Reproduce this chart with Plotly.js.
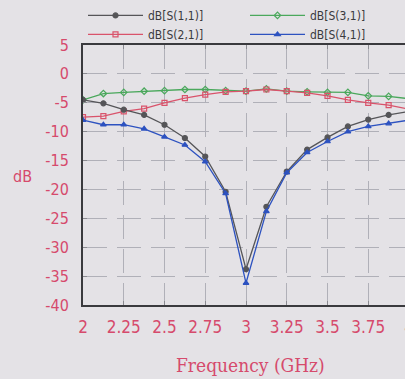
<!DOCTYPE html>
<html>
<head>
<meta charset="utf-8">
<script src="https://cdn.plot.ly/plotly-3.0.1.min.js"></script>
<style>
html,body{margin:0;padding:0;overflow:hidden;background:#e4e2e6;}
#chart{width:430px;height:379px;}
</style>
</head>
<body>
<div id="chart"></div>
<script>
const freq = [2, 2.125, 2.25, 2.375, 2.5, 2.625, 2.75, 2.875, 3, 3.125, 3.25, 3.375, 3.5, 3.625, 3.75, 3.875, 4];
const s11 = [-4.5, -5.1, -6.2, -7.1, -8.8, -11.1, -14.3, -20.4, -33.8, -23.0, -16.9, -13.1, -11.0, -9.1, -7.9, -7.1, -6.5];
const s21 = [-7.5, -7.3, -6.5, -6.0, -5.0, -4.2, -3.6, -3.1, -3.0, -2.7, -3.0, -3.3, -3.8, -4.5, -5.0, -5.4, -6.1];
const s31 = [-4.5, -3.4, -3.2, -3.0, -2.9, -2.7, -2.7, -2.9, -3.0, -2.6, -3.0, -3.1, -3.2, -3.2, -3.8, -3.9, -4.3];
const s41 = [-8.0, -8.8, -8.8, -9.5, -10.9, -12.3, -15.2, -20.7, -36.2, -23.8, -17.1, -13.6, -11.7, -10.0, -9.1, -8.6, -8.0];
const names = ['dB[S(1,1)]', 'dB[S(2,1)]', 'dB[S(3,1)]', 'dB[S(4,1)]'];
const xTicks = [2, 2.25, 2.5, 2.75, 3, 3.25, 3.5, 3.75, 4];
const yTicks = [-40, -35, -30, -25, -20, -15, -10, -5, 0, 5];

const red = '#d64a6c';
const narrow = 'Liberation Sans Narrow, DejaVu Sans Condensed, sans-serif';
function tr(y, name, color, symbol, rank) {
  return {
    x: freq, y: y, name: name, type: 'scatter', mode: 'lines+markers',
    line: {color: color, width: 1.3},
    marker: {symbol: symbol, size: 5, color: color, line: {color: color, width: 1.2}},
    legendrank: rank
  };
}
const data = [
  tr(s31, names[2], '#4aa85c', 'diamond-open', 2),
  tr(s21, names[1], '#d9536b', 'square-open', 3),
  tr(s11, names[0], '#555558', 'circle', 1),
  tr(s41, names[3], '#2d52c0', 'triangle-up', 4)
];
const axisCommon = {
  showline: true, linecolor: '#3a3a3e', linewidth: 2, mirror: 'allticks',
  ticks: 'inside', ticklen: 4, tickcolor: '#8a8a90',
  showgrid: true, gridcolor: '#b0b0b8', griddash: '24px,10px', gridwidth: 1,
  zeroline: false
};
const layout = {
  width: 430, height: 379,
  margin: {l: 83, r: 21, t: 45, b: 74, autoexpand: false},
  paper_bgcolor: '#e4e2e6', plot_bgcolor: '#e4e2e6',
  showlegend: true,
  legend: {
    orientation: 'h', x: 0, xanchor: 'left', y: 0.985, yanchor: 'bottom',
    entrywidth: 92, entrywidthmode: 'pixels', itemwidth: 55,
    font: {family: 'DejaVu Sans Condensed', size: 12, color: '#3a3a3e'},
    bgcolor: 'rgba(0,0,0,0)', tracegroupgap: 0
  },
  xaxis: Object.assign({}, axisCommon, {
    range: [2, 4], tickvals: xTicks, ticktext: xTicks.map(String), ticklabelstandoff: 6,
    tickfont: {family: narrow, size: 17, color: red}
  }),
  yaxis: Object.assign({}, axisCommon, {
    range: [-40, 5], tickvals: yTicks, ticktext: yTicks.map(String), ticklabelstandoff: 9,
    tickfont: {family: narrow, size: 16, color: red}
  }),
  annotations: [{
    text: 'dB', xref: 'paper', yref: 'paper', x: -0.187, y: 0.496, showarrow: false,
    xanchor: 'center', yanchor: 'middle', font: {family: 'DejaVu Sans Condensed', size: 16, color: red}
  }, {
    text: 'Frequency (GHz)', xref: 'paper', yref: 'paper', x: 0.515, y: -0.23, showarrow: false,
    xanchor: 'center', yanchor: 'middle', font: {family: 'DejaVu Serif Condensed', size: 19, color: red}
  }]
};
Plotly.newPlot('chart', data, layout, {displayModeBar: false, staticPlot: true});
</script>
</body>
</html>
